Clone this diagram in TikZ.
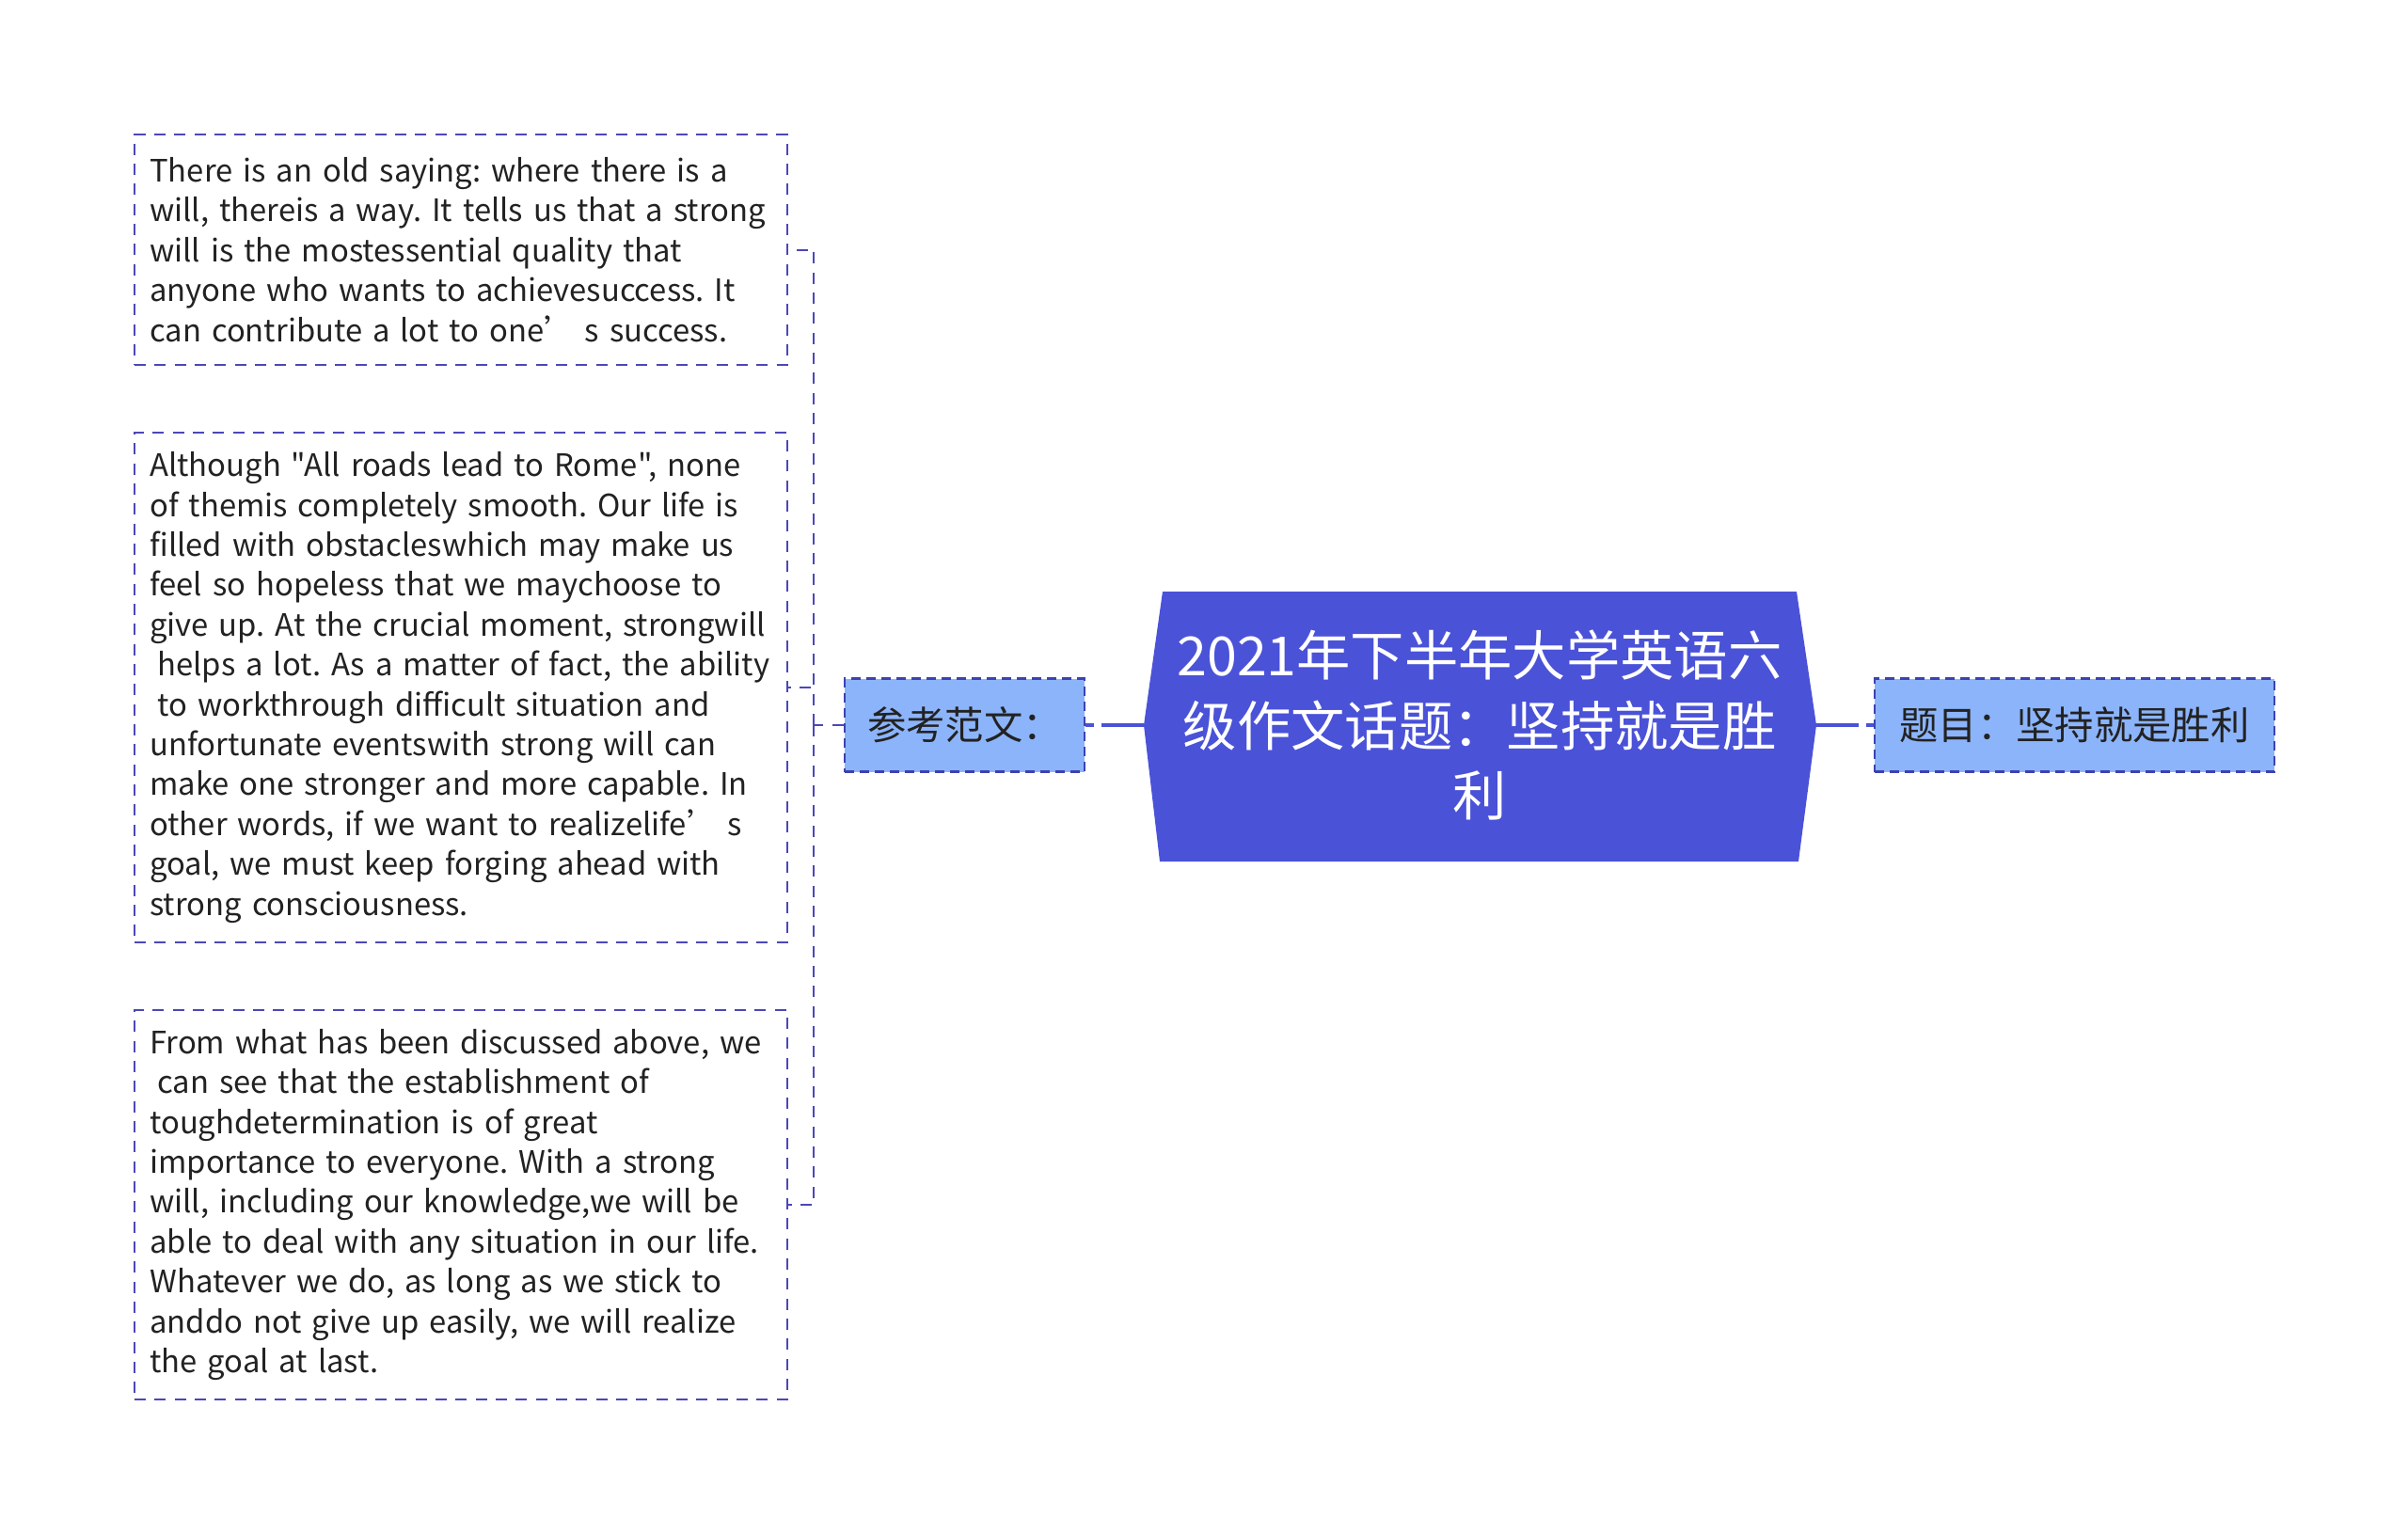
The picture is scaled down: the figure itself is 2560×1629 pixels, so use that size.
\documentclass[tikz,border=0pt]{standalone}
\usepackage{fontspec}
\setmainfont{Noto Sans CJK SC}[Ligatures=TeXOff]
\frenchspacing
\definecolor{mainc}{HTML}{4A52D8}
\definecolor{boxc}{HTML}{8CB4FA}
\definecolor{linec}{HTML}{3D42B0}
\definecolor{leafc}{HTML}{4B47B8}
\definecolor{textc}{HTML}{222222}
\begin{document}
\begin{tikzpicture}[x=0.75pt,y=-0.75pt,
  leaf/.style={draw=leafc, line width=1.5pt, dash pattern={on 9pt off 7pt}, fill=white,
    anchor=north west, text width=496pt, align=left, inner xsep=12pt, inner ysep=0pt,
    minimum width=520.5pt, font=\fontsize{24.6}{31.8}\selectfont\frenchspacing, text=textc},
  subbox/.style={draw=linec, line width=2pt, dash pattern={on 7.5pt off 4.5pt}, fill=boxc,
    minimum height=74.25pt, inner xsep=8pt, font=\fontsize{31}{36}\selectfont, text=textc},
  bracket/.style={draw=leafc, line width=1.5pt, dash pattern={on 9pt off 7pt}},
  mainline/.style={draw=mainc, line width=2.5pt, dash pattern={on 34pt off 6pt on 100pt}}]
\useasboundingbox (0,0) rectangle (2560,1629);

% central topic shape
\fill[mainc] (1236,629) -- (1910,629) -- (1931,771) -- (1912,916) -- (1233,916) -- (1216,771) -- cycle;
\coordinate (cl) at (1216,771);
\coordinate (cr) at (1931,771);
\node[text=white, align=center, font=\fontsize{43}{56}\selectfont] (main) at (1573,771)
  {2021年下半年大学英语六\\级作文话题：坚持就是胜\\利};

% sub boxes
\node[subbox, minimum width=191.25pt] (ref) at (1025.5,771) {参考范文：};
\node[subbox, minimum width=318.75pt] (title) at (2205.5,771) {题目：坚持就是胜利};

% leaves
\node[leaf, minimum height=183.75pt] (l1) at (142,142)
  {There is an old saying: where there is a\\
   will, thereis a way. It tells us that a strong\\
   will is the mostessential quality that\\
   anyone who wants to achievesuccess. It\\
   can contribute a lot to one’ s success.};
\node[leaf, minimum height=406.5pt] (l2) at (142,459)
  {Although "All roads lead to Rome", none\\
   of themis completely smooth. Our life is\\
   filled with obstacleswhich may make us\\
   feel so hopeless that we maychoose to\\
   give up. At the crucial moment, strongwill\\
   \hspace*{0.25em}helps a lot. As a matter of fact, the ability\\
   \hspace*{0.25em}to workthrough difficult situation and\\
   unfortunate eventswith strong will can\\
   make one stronger and more capable. In\\
   other words, if we want to realizelife’ s\\
   goal, we must keep forging ahead with\\
   strong consciousness.};
\node[leaf, minimum height=310.5pt] (l3) at (142,1073)
  {From what has been discussed above, we\\
   \hspace*{0.25em}can see that the establishment of\\
   toughdetermination is of great\\
   importance to everyone. With a strong\\
   will, including our knowledge,we will be\\
   able to deal with any situation in our life.\\
   Whatever we do, as long as we stick to\\
   anddo not give up easily, we will realize\\
   the goal at last.};

% connectors
\draw[mainline] (cl) -- (ref.east);
\draw[mainline] (cr) -- (title.west);
\coordinate (bx) at (865,771);
\draw[bracket] (ref.west) -- (bx);
\draw[bracket] (bx) |- (l1.east);
\draw[bracket] (bx) |- (l2.east);
\draw[bracket] (bx) |- (l3.east);
\end{tikzpicture}
\end{document}
